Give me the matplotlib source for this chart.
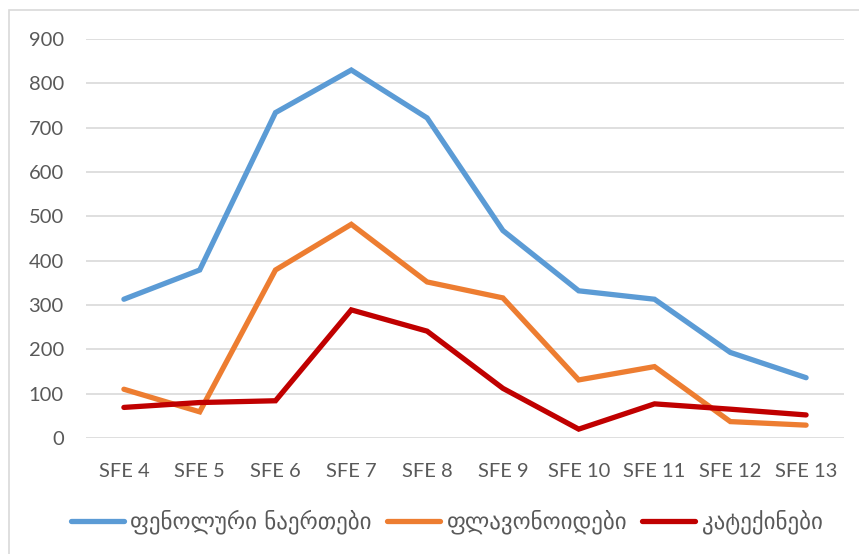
import matplotlib.pyplot as plt
from matplotlib.patches import Rectangle

samples = ["SFE 4", "SFE 5", "SFE 6", "SFE 7", "SFE 8", "SFE 9", "SFE 10", "SFE 11", "SFE 12", "SFE 13"]
phenolics = [313, 379, 734, 830, 722, 468, 332, 313, 193, 136]
flavonoids = [110, 59, 379, 482, 352, 316, 131, 161, 37, 29]
catechins = [69, 80, 84, 289, 241, 112, 20, 77, 65, 52]
series_names = ["ფენოლური ნაერთები", "ფლავონოიდები", "კატექინები"]
y_ticks = [0, 100, 200, 300, 400, 500, 600, 700, 800, 900]

plt.rcParams['font.family'] = ['Lato', 'DejaVu Sans']

fig = plt.figure(figsize=(8.59, 5.54), dpi=100)
fig.patches.append(Rectangle((9 / 859, -0.01), 0.995, 1 - 10 / 554 + 0.01,
                             transform=fig.transFigure, fill=False,
                             edgecolor="#d9d9d9", linewidth=1.2))

ax = fig.add_axes([86 / 859, 1 - 438 / 554, 758 / 859, 399 / 554])
x = range(len(samples))
colors = ["#5b9bd5", "#ed7d31", "#c00000"]
for vals, name, c in zip([phenolics, flavonoids, catechins], series_names, colors):
    ax.plot(x, vals, color=c, linewidth=3.8, solid_capstyle="round",
            solid_joinstyle="miter", label=name)

ax.set_xlim(-0.5, len(samples) - 0.5)
ax.set_ylim(0, 900)
ax.set_yticks(y_ticks)
ax.set_xticks(list(x))
ax.set_xticklabels(samples)
ax.grid(axis="y", color="#d9d9d9", linewidth=1.2)
ax.set_axisbelow(True)
for s in ax.spines.values():
    s.set_visible(False)
ax.tick_params(length=0, colors="#595959", labelsize=14.5)
ax.tick_params(axis="y", pad=16)
ax.tick_params(axis="x", pad=18)

leg = fig.legend(loc="center", bbox_to_anchor=(0.52, 1 - 522 / 554), ncol=3,
                 frameon=False, handlelength=2.3, handletextpad=0.3,
                 columnspacing=0.65,
                 prop={"family": ["DejaVu Sans"], "size": 16.5})
for t in leg.get_texts():
    t.set_color("#595959")

fig.savefig("out.png", dpi=100)
